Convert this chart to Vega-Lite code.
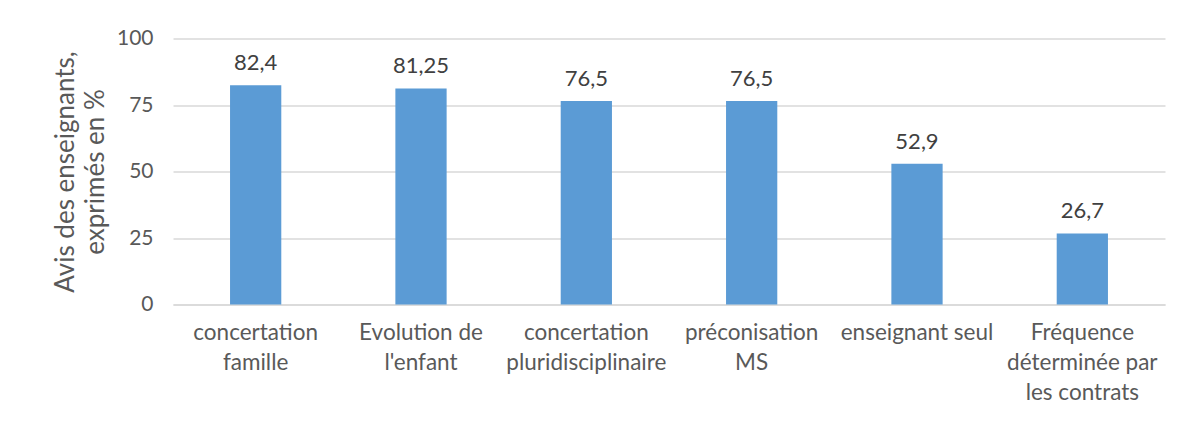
{
  "$schema": "https://vega.github.io/schema/vega-lite/v6.json",
  "width": 992,
  "height": 266,
  "autosize": {"type": "none"},
  "padding": {"left": 173, "top": 38.5, "right": 17, "bottom": 116.5},
  "background": "white",
  "data": {
    "values": [
      {"cat": "concertation|famille", "val": 82.4, "lab": "82,4"},
      {"cat": "Evolution de|l'enfant", "val": 81.25, "lab": "81,25"},
      {"cat": "concertation|pluridisciplinaire", "val": 76.5, "lab": "76,5"},
      {"cat": "préconisation|MS", "val": 76.5, "lab": "76,5"},
      {"cat": "enseignant seul", "val": 52.9, "lab": "52,9"},
      {"cat": "Fréquence|déterminée par|les contrats", "val": 26.7, "lab": "26,7"}
    ]
  },
  "encoding": {
    "x": {
      "field": "cat", "type": "nominal", "sort": null,
      "scale": {"paddingInner": 0.69, "paddingOuter": 0.345},
      "axis": {
        "title": null, "labelAngle": 0, "ticks": false,
        "domainColor": "#D9D9D9", "domainWidth": 1.5,
        "labelExpr": "split(datum.value, '|')",
        "labelFont": "Lato", "labelFontSize": 22.5, "labelColor": "#595959",
        "labelLineHeight": 30, "labelPadding": 17, "labelBaseline": "top"
      }
    },
    "y": {
      "field": "val", "type": "quantitative",
      "scale": {"domain": [0, 100]},
      "axis": {
        "values": [0, 25, 50, 75, 100],
        "title": ["Avis des enseignants,", "exprimés en %"],
        "titleFont": "Lato", "titleFontSize": 26, "titleFontWeight": "normal",
        "titleColor": "#595959", "titleLineHeight": 30, "titlePadding": 8,
        "labelFont": "Lato", "labelFontSize": 21, "labelColor": "#595959",
        "labelPadding": 20, "ticks": false, "domain": false,
        "gridColor": "#D9D9D9", "gridWidth": 1.5
      }
    }
  },
  "layer": [
    {"mark": {"type": "bar", "color": "#5B9BD5"}},
    {
      "mark": {"type": "text", "baseline": "alphabetic", "dy": -15, "font": "Lato", "fontSize": 22, "color": "#404040"},
      "encoding": {"text": {"field": "lab"}}
    }
  ],
  "config": {"view": {"stroke": null}}
}
